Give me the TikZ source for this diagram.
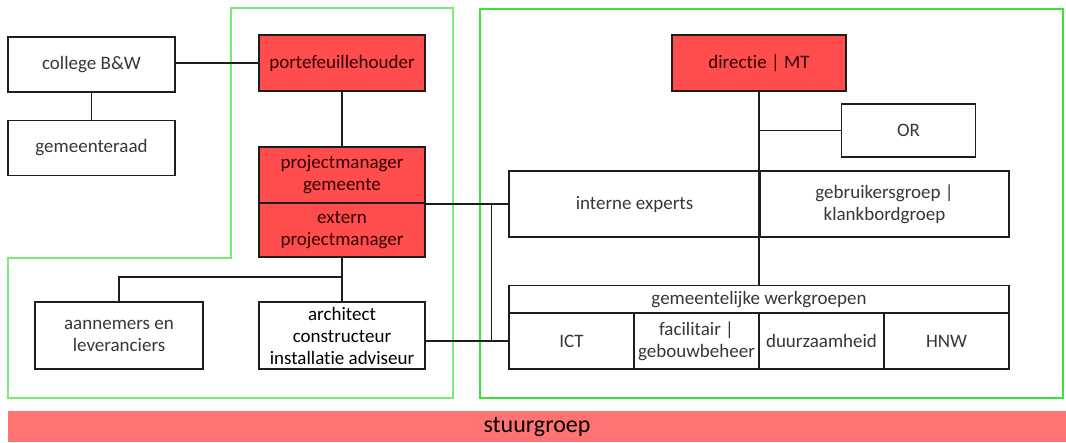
\documentclass[tikz,border=0pt]{standalone}
\usepackage{fontspec}
\setmainfont[Ligatures=NoCommon]{Carlito}
\definecolor{boxred}{RGB}{255,76,76}
\definecolor{barred}{RGB}{255,115,115}
\definecolor{redtext}{RGB}{50,0,0}
\definecolor{greytext}{RGB}{55,55,55}
\definecolor{framegreen}{RGB}{120,235,120}
\definecolor{framegreenB}{RGB}{60,225,60}
\definecolor{edge}{RGB}{30,30,30}
\tikzset{
  unit/.style={draw=edge, line width=1.8pt, inner sep=0pt, align=center,
    font=\fontsize{19}{22}\selectfont, text=greytext},
  redunit/.style={unit, fill=boxred, text=redtext},
  link/.style={draw=edge, line width=1.8pt},
  frame/.style={draw=framegreen, line width=1.4pt},
}
\begin{document}
\begin{tikzpicture}[x=1pt,y=-1pt]
\useasboundingbox (0,0) rectangle (1066,442);
\fill[white] (0,0) rectangle (1066,442);

% project frames
\draw[frame] (231,8) -- (453,8) -- (453,398) -- (8,398) -- (8,258) -- (231,258) -- cycle;
\draw[frame, draw=framegreenB] (480,9) rectangle (1063,398);

% municipality side
\node[unit, minimum width=167pt, minimum height=55pt] (college) at (91.5,64.5) {college B\&W};
\node[unit, minimum width=167pt, minimum height=55pt] (raad) at (91.5,148) {gemeenteraad};
\node[redunit, minimum width=166pt, minimum height=56pt] (pfh) at (342,63) {portefeuillehouder};
\node[redunit, minimum width=166pt, minimum height=56pt] (pmg) at (342,175) {projectmanager\\gemeente};
\node[redunit, minimum width=166pt, minimum height=54pt] (epm) at (342,230) {extern\\projectmanager};
\node[unit, minimum width=168pt, minimum height=67pt] (aann) at (119,335.5) {aannemers en\\leveranciers};
\node[unit, minimum width=166pt, minimum height=67pt, text=black] (arch) at (342,335.5) {architect\\constructeur\\installatie adviseur};

% organisation side
\node[redunit, minimum width=174pt, minimum height=56pt] (dir) at (759,63) {directie | MT};
\node[unit, minimum width=134pt, minimum height=53pt] (or) at (908.5,130.5) {OR};
\node[unit, minimum width=251pt, minimum height=66pt] (intern) at (634.5,204) {interne experts};
\node[unit, minimum width=249pt, minimum height=66pt] (gebr) at (884.5,204) {gebruikersgroep |\\klankbordgroep};
\node[unit, minimum width=500pt, minimum height=28pt] (werk) at (759,299.5) {gemeentelijke werkgroepen};
\node[unit, minimum width=125pt, minimum height=56pt] (ict) at (571.5,341) {ICT};
\node[unit, minimum width=125pt, minimum height=56pt] (fac) at (696.5,341) {facilitair |\\gebouwbeheer};
\node[unit, minimum width=125pt, minimum height=56pt] (duur) at (821.5,341) {duurzaamheid};
\node[unit, minimum width=125pt, minimum height=56pt] (hnw) at (946.5,341) {HNW};

% steering group bar
\node[fill=barred, minimum width=1058pt, minimum height=31pt, inner sep=0pt,
      font=\fontsize{24}{26}\selectfont, text=black] (stuur) at (537,426.5) {stuurgroep};

% connectors
\draw[link] (college.east |- pfh.west) -- (pfh.west);
\draw[link] (college.south) -- (raad.north);
\draw[link] (pfh.south) -- (pmg.north);
\coordinate (split) at (342,277);
\draw[link] (epm.south) -- (arch.north);
\draw[link] (split) -| (aann.north);
\draw[link] (pmg.south east) -- (pmg.south east -| intern.west);
\coordinate (spine) at (491.5,203);
\draw[link] (spine) -- (spine |- ict.west);
\draw[link] (arch.east |- ict.west) -- (ict.west);
\draw[link] (dir.south) -- (werk.north);
\draw[link] (or.west) -- (or.west -| dir.south);
\end{tikzpicture}
\end{document}
